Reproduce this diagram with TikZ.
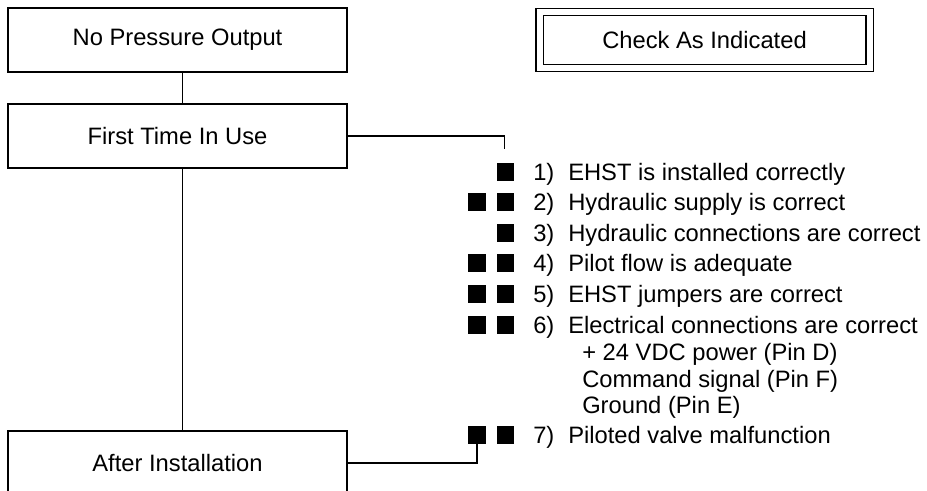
\documentclass[tikz,border=0pt]{standalone}
\usepackage{fontspec}
\setmainfont{Liberation Sans}
\usetikzlibrary{positioning}
\newcommand{\widthbox}{254.25pt}
\newcommand{\heightbox}{48pt}
\newcommand{\widthsq}{13pt}
\newcommand{\widthnum}{26.25pt}
\newcommand{\itemnum}[1]{\makebox[\widthnum][l]{#1}}
\tikzset{
    every node/.style={font=\fontsize{17.8}{21}\selectfont},
    flowbox/.style={draw, rectangle, line width=1pt, minimum width=\widthbox, minimum height=\heightbox},
    legendbox/.style={draw, rectangle, double, double distance=4.5pt, line width=0.8pt,
        minimum width=247.5pt, minimum height=42.4pt},
    sq/.style={fill=black, minimum size=\widthsq, inner sep=0pt},
    item/.style={anchor=west, inner sep=0pt, text height=12.7pt, text depth=0pt},
    wire/.style={line width=1pt}
}
\begin{document}
\begin{tikzpicture}[x=0.75pt, y=-0.75pt]
    \useasboundingbox (0,0) rectangle (927,491);

    \node[flowbox] (np) at (177.5,40) {No Pressure Output};
    \node[flowbox] (ft) at (177.5,136) {First Time In Use};
    \node[flowbox] (ai) at (177.5,463) {After Installation};
    \node[legendbox] (ci) at (704.5,40) {Check As Indicated};

    % squares: right column for every item, left column for some
    \foreach \y/\n in {172/1, 202/2, 233/3, 263/4, 294/5, 325/6, 435/7}
        \node[sq] (sq\n-b) at (505.5,\y) {};
    \foreach \y/\n in {202/2, 263/4, 294/5, 325/6, 435/7}
        \node[sq] (sq\n-a) at (477,\y) {};

    \node[item] (i1) at (533,172) {\itemnum{1)}EHST is installed correctly};
    \node[item] (i2) at (533,202) {\itemnum{2)}Hydraulic supply is correct};
    \node[item] (i3) at (533,233) {\itemnum{3)}Hydraulic connections are correct};
    \node[item] (i4) at (533,263) {\itemnum{4)}Pilot flow is adequate};
    \node[item] (i5) at (533,294) {\itemnum{5)}EHST jumpers are correct};
    \node[item] (i6) at (533,325) {\itemnum{6)}Electrical connections are correct};
    \node[item] (i6a) at (582,352) {+ 24 VDC power (Pin D)};
    \node[item] (i6b) at (582,379) {Command signal (Pin F)};
    \node[item] (i6c) at (582,405) {Ground (Pin E)};
    \node[item] (i7) at (533,435) {\itemnum{7)}Piloted valve malfunction};

    \draw[wire] ([xshift=3.75pt]np.south) -- ([xshift=3.75pt]ft.north);
    \draw[wire] ([xshift=3.75pt]ft.south) -- ([xshift=3.75pt]ai.north);
    \draw[wire] (ft.east) -| ([xshift=-1pt, yshift=10.5pt]sq1-b.north);
    \draw[wire] (ai.east) -| (sq7-a.south);
\end{tikzpicture}
\end{document}
